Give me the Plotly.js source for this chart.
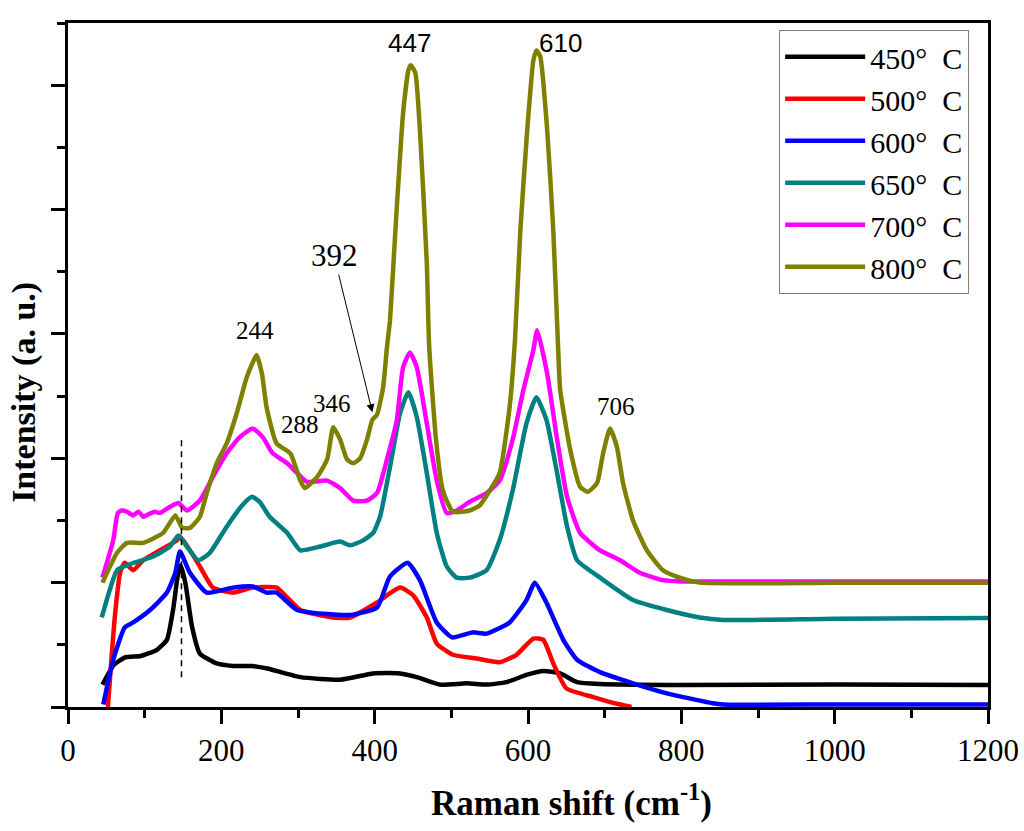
<!DOCTYPE html>
<html>
<head>
<meta charset="utf-8">
<script src="https://cdn.plot.ly/plotly-3.0.1.min.js"></script>
<style>html,body{margin:0;padding:0;background:#fff;}#chart{width:1024px;height:831px;}</style>
</head>
<body>
<div id="chart"></div>
<script>
// ---- data ----
const seriesNames = ["450°  C", "500°  C", "600°  C", "650°  C", "700°  C", "800°  C"];
const seriesColors = ["#000000", "#FF0000", "#0000FF", "#008080", "#FF00FF", "#808000"];

const x450 = [45,52,60,75,95,116,129,137,143,147,153,162,172,194,215,240,260,303,355,398,433,455,485,520,546,572,599,620,642,664,694,800,1000,1200];
const y450 = [0.18,0.26,0.34,0.40,0.41,0.46,0.54,0.78,1.05,1.14,1.0,0.64,0.43,0.35,0.33,0.33,0.31,0.24,0.22,0.27,0.27,0.24,0.18,0.19,0.18,0.20,0.26,0.29,0.27,0.20,0.185,0.177,0.18,0.177];

const x500 = [52,61,68,74,85,98,120,142,146,160,172,189,215,241,272,286,303,345,368,403,433,450,468,481,502,533,563,585,607,620,633,650,685,720,735];
const y500 = [0,0.72,1.08,1.16,1.10,1.18,1.26,1.34,1.37,1.25,1.13,0.96,0.92,0.96,0.96,0.88,0.78,0.72,0.72,0.84,0.96,0.90,0.72,0.51,0.42,0.39,0.36,0.42,0.55,0.54,0.35,0.15,0.08,0.02,0];

const x600 = [46,59,74,85,107,129,140,146,159,181,215,241,259,272,299,368,403,420,443,459,481,501,528,546,576,598,609,624,646,664,694,737,781,841,854,1000,1200];
const y600 = [0.02,0.38,0.64,0.68,0.78,0.92,1.08,1.25,1.08,0.92,0.96,0.97,0.92,0.92,0.78,0.74,0.80,1.05,1.16,1.02,0.68,0.56,0.60,0.59,0.68,0.86,1.0,0.84,0.54,0.38,0.28,0.19,0.11,0.03,0.02,0.02,0.02];

const x650 = [44,64,77,111,133,144,155,170,185,207,227,240,250,263,286,303,329,355,368,385,398,407,420,433,444,455,468,481,494,507,524,546,563,580,598,611,624,638,651,664,694,737,781,824,854,1000,1200];
const y650 = [0.72,1.10,1.14,1.21,1.29,1.38,1.29,1.18,1.24,1.45,1.62,1.69,1.65,1.53,1.40,1.26,1.29,1.33,1.30,1.34,1.40,1.53,1.93,2.36,2.53,2.33,1.88,1.40,1.13,1.04,1.04,1.10,1.34,1.74,2.28,2.49,2.31,1.88,1.45,1.18,1.04,0.86,0.78,0.72,0.70,0.71,0.715];

const x700 = [45,59,65,70,77,85,92,98,105,113,120,133,144,155,172,189,207,224,241,254,267,286,299,312,338,355,372,390,403,416,429,437,446,455,468,481,494,507,524,546,563,580,594,607,612,625,638,651,668,694,720,746,776,800,1000,1200];
const y700 = [1.04,1.34,1.56,1.58,1.57,1.54,1.57,1.53,1.55,1.57,1.56,1.61,1.64,1.58,1.66,1.85,2.04,2.17,2.24,2.17,2.04,1.96,1.88,1.81,1.82,1.76,1.66,1.66,1.72,1.99,2.31,2.73,2.85,2.73,2.28,1.82,1.56,1.58,1.65,1.72,1.82,2.15,2.55,2.87,3.03,2.68,2.15,1.69,1.40,1.26,1.18,1.08,1.02,1.01,1.01,1.01];

const x800 = [45,64,77,98,124,140,149,159,172,181,194,207,220,233,241,246,253,259,272,290,303,309,325,338,346,355,364,372,381,390,397,403,411,416,420,427,437,444,447,453,459,468,471,480,489,502,524,537,550,563,576,583,590,599,607,611,616,625,633,639,642,655,668,678,690,698,707,716,724,737,755,776,798,824,1000,1200];
const y800 = [1.0,1.24,1.32,1.32,1.40,1.54,1.44,1.44,1.53,1.72,1.96,2.12,2.36,2.65,2.77,2.83,2.68,2.41,2.12,2.04,1.82,1.76,1.85,1.99,2.25,2.15,1.99,1.96,2.0,2.15,2.31,2.35,2.57,2.89,3.11,3.83,4.77,5.12,5.16,5.10,4.64,3.57,2.91,2.15,1.74,1.57,1.58,1.62,1.74,1.88,2.41,2.95,3.83,4.64,5.20,5.28,5.23,4.64,3.83,2.93,2.55,2.07,1.77,1.73,1.80,2.04,2.24,2.09,1.80,1.50,1.26,1.10,1.04,1.00,1.00,1.00];

const seriesX = [x450, x500, x600, x650, x700, x800];
const seriesY = [y450, y500, y600, y650, y700, y800];

// dashed reference line at the 148 cm-1 mode
const refLineX = [148, 148];
const refLineY = [0.24, 2.17];

// peak labels
const peakText = ["244", "288", "346", "706"];
const peakX = [244, 303, 344, 715];
const peakY = [3.03, 2.27, 2.44, 2.42];
const bigPeakText = ["447", "610"];
const bigPeakX = [446, 642];
const bigPeakY = [5.34, 5.34];
const arrowLabel = "392";
const arrowTextXY = [347, 3.63];
const arrowHeadXY = [397, 2.37];

const xTickVals = [0, 200, 400, 600, 800, 1000, 1200];
const xTitle = "<b>Raman shift (cm<sup>-1</sup>)</b>";
const yTitle = "<b>Intensity (a. u.)</b>";

// ---- build chart ----
const serif = "Liberation Serif, Times New Roman, serif";
const sans = "Liberation Sans, Arial, sans-serif";

const traces = seriesNames.map((n, i) => ({
  x: seriesX[i], y: seriesY[i], name: n, type: "scatter", mode: "lines",
  line: {color: seriesColors[i], width: 4.5, shape: "spline", smoothing: 0.5}
}));
traces.push({
  x: refLineX, y: refLineY, type: "scatter", mode: "lines", showlegend: false,
  line: {color: "#000", width: 1.5, dash: "6px,5px"}, hoverinfo: "skip"
});

const annotations = [];
peakText.forEach((t, i) => annotations.push({
  x: peakX[i], y: peakY[i], xref: "x", yref: "y", text: t, showarrow: false,
  font: {family: serif, size: 25, color: "#000"}
}));
bigPeakText.forEach((t, i) => annotations.push({
  x: bigPeakX[i], y: bigPeakY[i], xref: "x", yref: "y", text: t, showarrow: false,
  font: {family: sans, size: 26, color: "#000"}
}));
annotations.push({
  x: arrowHeadXY[0], y: arrowHeadXY[1], xref: "x", yref: "y",
  ax: arrowTextXY[0], ay: arrowTextXY[1], axref: "x", ayref: "y",
  text: arrowLabel, showarrow: true, arrowhead: 2, arrowsize: 1.6, arrowwidth: 1,
  arrowcolor: "#000", standoff: 0,
  font: {family: serif, size: 31, color: "#000"}
});
// axis titles
annotations.push({
  xref: "paper", yref: "paper", x: 0.547, y: -0.136, xanchor: "center", yanchor: "middle",
  text: xTitle, showarrow: false, font: {family: serif, size: 35, color: "#000"}
});
annotations.push({
  xref: "paper", yref: "paper", x: -0.048, y: 0.4605, xanchor: "center", yanchor: "middle",
  text: yTitle, textangle: -90, showarrow: false, font: {family: serif, size: 34, color: "#000"}
});

const layout = {
  width: 1024, height: 831,
  margin: {l: 68, r: 36, t: 23, b: 124},
  paper_bgcolor: "#fff", plot_bgcolor: "#fff",
  showlegend: true,
  legend: {
    x: 0.773, y: 0.99, xanchor: "left", yanchor: "top",
    bordercolor: "#808080", borderwidth: 1, bgcolor: "#fff",
    font: {family: serif, size: 30, color: "#000"},
    itemwidth: 80
  },
  xaxis: {
    range: [0, 1200], tickvals: xTickVals, ticks: "outside", ticklen: 14, tickwidth: 3,
    tickcolor: "#000", showline: true, linewidth: 3, linecolor: "#000", mirror: true,
    showgrid: false, zeroline: false,
    tickfont: {family: serif, size: 31, color: "#000"},
    minor: {dtick: 100, ticks: "outside", ticklen: 8, tickwidth: 3, tickcolor: "#000", showgrid: false}
  },
  yaxis: {
    range: [0, 5.5], dtick: 1, tick0: 0, ticks: "outside", ticklen: 14, tickwidth: 3,
    tickcolor: "#000", showline: true, linewidth: 3, linecolor: "#000", mirror: true,
    showgrid: false, zeroline: false, showticklabels: false,
    minor: {dtick: 0.5, ticks: "outside", ticklen: 8, tickwidth: 3, tickcolor: "#000", showgrid: false}
  },
  annotations: annotations
};

Plotly.newPlot("chart", traces, layout, {displayModeBar: false, staticPlot: true});
</script>
</body>
</html>
